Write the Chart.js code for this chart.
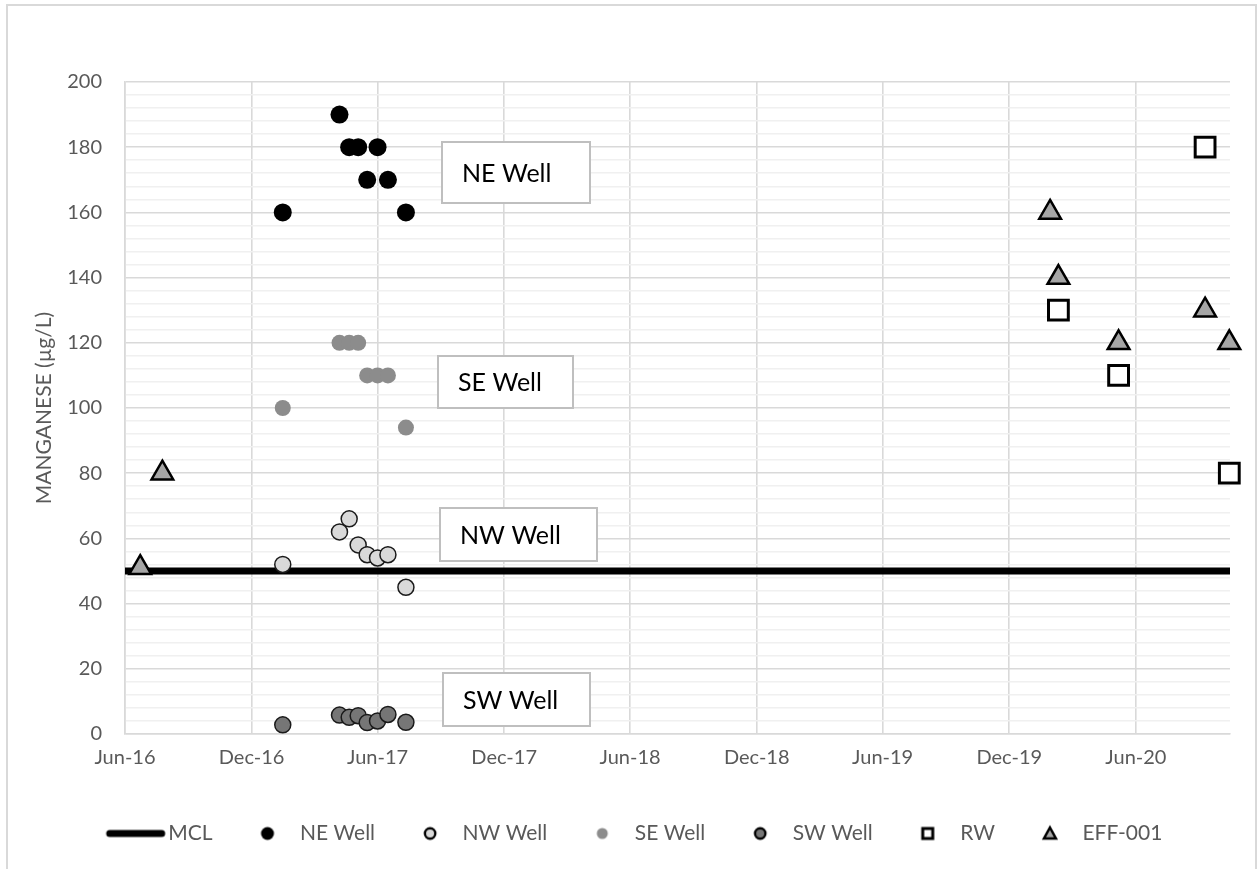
<!DOCTYPE html>
<html>
<head>
<meta charset="utf-8">
<script src="https://cdn.jsdelivr.net/npm/chart.js@4/dist/chart.umd.min.js"></script>
<style>
  html, body { margin: 0; padding: 0; background: #fff; }
  #wrap { width: 1258px; height: 869px; position: relative; }
</style>
</head>
<body>
<div id="wrap"><canvas id="mnChart"></canvas></div>
<script>
// sample data
const wellDates = ["2017-01-15", "2017-04-07", "2017-04-21", "2017-05-04", "2017-05-17", "2017-06-01", "2017-06-16", "2017-07-12"];
const neWell = [160, 190, 180, 180, 170, 180, 170, 160];
const nwWell = [52, 62, 66, 58, 55, 54, 55, 45];
const seWell = [100, 120, 120, 120, 110, 110, 110, 94];
const swWell = [2.8, 5.8, 5.1, 5.6, 3.5, 4, 6, 3.6];

const rwDates = ["2020-02-10", "2020-05-07", "2020-09-09", "2020-10-14"];
const rwValues = [130, 110, 180, 80];

const effDates = ["2016-06-23", "2016-07-25", "2020-01-29", "2020-02-10", "2020-05-07", "2020-09-09", "2020-10-14"];
const effValues = [51, 80, 160, 140, 120, 130, 120];

const mclValue = 50;

const xStart = "2016-06-01";
const xEnd = "2020-10-15";
const xTickDates = ["2016-06-01", "2016-12-01", "2017-06-01", "2017-12-01", "2018-06-01", "2018-12-01", "2019-06-01", "2019-12-01", "2020-06-01"];
const xTickLabels = ["Jun-16", "Dec-16", "Jun-17", "Dec-17", "Jun-18", "Dec-18", "Jun-19", "Dec-19", "Jun-20"];

const wellLabels = [
  { text: "NE Well", x: 442, y: 142, w: 148, h: 61 },
  { text: "SE Well", x: 438, y: 356, w: 135, h: 52 },
  { text: "NW Well", x: 440, y: 508, w: 157, h: 53 },
  { text: "SW Well", x: 443, y: 673, w: 147, h: 53 },
];

// dates -> day numbers so a linear scale can be used
const toDay = (s) => {
  const [y, m, d] = s.split("-").map(Number);
  return Date.UTC(y, m - 1, d) / 86400000;
};
const pts = (dates, vals) => dates.map((d, i) => ({ x: toDay(d), y: vals[i] }));

const FONT = "Lato, 'Open Sans', sans-serif";
const GREY_TXT = "#595959";

// small canvases used as legend markers
function marker(w, h, draw) {
  const c = document.createElement("canvas");
  c.width = w;
  c.height = h;
  draw(c.getContext("2d"), w / 2, h / 2);
  return c;
}
const dot = (r, fill, stroke, lw) => marker(20, 20, (g, cx, cy) => {
  g.beginPath();
  g.arc(cx, cy, r, 0, Math.PI * 2);
  g.fillStyle = fill;
  g.fill();
  if (stroke) { g.lineWidth = lw; g.strokeStyle = stroke; g.stroke(); }
});
const legendIcons = {
  mcl: marker(64, 12, (g, cx, cy) => {
    g.beginPath();
    g.moveTo(6, cy);
    g.lineTo(58, cy);
    g.lineWidth = 7;
    g.lineCap = "round";
    g.strokeStyle = "#000";
    g.stroke();
  }),
  ne: dot(6.5, "#000"),
  nw: dot(5.2, "#d9d9d9", "#000", 2.4),
  se: dot(5.5, "#8c8c8c"),
  sw: dot(5.2, "#767676", "#000", 2.4),
  rw: marker(20, 20, (g, cx, cy) => {
    g.fillStyle = "#fff";
    g.strokeStyle = "#000";
    g.lineWidth = 3;
    g.fillRect(cx - 5, cy - 5, 10, 10);
    g.strokeRect(cx - 5, cy - 5, 10, 10);
  }),
  eff: marker(20, 20, (g, cx, cy) => {
    g.beginPath();
    g.moveTo(cx, cy - 6);
    g.lineTo(cx + 6, cy + 5);
    g.lineTo(cx - 6, cy + 5);
    g.closePath();
    g.fillStyle = "#a6a6a6";
    g.fill();
    g.lineWidth = 2.5;
    g.strokeStyle = "#000";
    g.stroke();
  }),
};

const framePlugin = {
  id: "frame",
  beforeDraw(chart) {
    const ctx = chart.ctx;
    ctx.save();
    ctx.strokeStyle = "#d9d9d9";
    ctx.lineWidth = 2;
    ctx.strokeRect(7, 5, 1249, 900);
    ctx.restore();
  },
  // legend sits a little right of the plot's centre in the original
  afterLayout(chart) {
    chart.legend.left += 23;
    chart.legend.right += 23;
  },
};

const wellLabelPlugin = {
  id: "wellLabels",
  afterDatasetsDraw(chart) {
    const ctx = chart.ctx;
    ctx.save();
    wellLabels.forEach((b) => {
      ctx.fillStyle = "#fff";
      ctx.fillRect(b.x, b.y, b.w, b.h);
      ctx.strokeStyle = "#bfbfbf";
      ctx.lineWidth = 2;
      ctx.strokeRect(b.x, b.y, b.w, b.h);
      ctx.fillStyle = "#000";
      ctx.font = "25px " + FONT;
      ctx.textBaseline = "middle";
      ctx.textAlign = "left";
      ctx.fillText(b.text, b.x + 20, b.y + b.h / 2 + 1);
    });
    ctx.restore();
  },
};

const ctx = document.getElementById("mnChart").getContext("2d");
new Chart(ctx, {
  type: "scatter",
  data: {
    datasets: [
      {
        label: "MCL",
        data: [{ x: toDay(xStart), y: mclValue }, { x: toDay(xEnd), y: mclValue }],
        showLine: true,
        borderColor: "#000",
        borderWidth: 7,
        pointRadius: 0,
        order: 10,
        icon: legendIcons.mcl,
      },
      {
        label: "NE Well",
        data: pts(wellDates, neWell),
        pointRadius: 9,
        backgroundColor: "#000",
        borderColor: "#000",
        borderWidth: 0,
        icon: legendIcons.ne,
      },
      {
        label: "NW Well",
        data: pts(wellDates, nwWell),
        pointRadius: 8,
        backgroundColor: "#d9d9d9",
        borderColor: "#1a1a1a",
        borderWidth: 1.5,
        icon: legendIcons.nw,
      },
      {
        label: "SE Well",
        data: pts(wellDates, seWell),
        pointRadius: 8,
        backgroundColor: "#8c8c8c",
        borderColor: "#8c8c8c",
        borderWidth: 0,
        icon: legendIcons.se,
      },
      {
        label: "SW Well",
        data: pts(wellDates, swWell),
        pointRadius: 8,
        backgroundColor: "#767676",
        borderColor: "#1a1a1a",
        borderWidth: 1.5,
        icon: legendIcons.sw,
      },
      {
        label: "RW",
        data: pts(rwDates, rwValues),
        pointStyle: "rect",
        pointRadius: 14,
        backgroundColor: "#fff",
        borderColor: "#000",
        borderWidth: 3,
        icon: legendIcons.rw,
      },
      {
        label: "EFF-001",
        data: pts(effDates, effValues),
        pointStyle: "triangle",
        pointRadius: 12.5,
        backgroundColor: "#a6a6a6",
        borderColor: "#000",
        borderWidth: 2.5,
        icon: legendIcons.eff,
      },
    ],
  },
  options: {
    responsive: true,
    maintainAspectRatio: false,
    animation: false,
    events: [],
    clip: false,
    layout: { padding: { top: 82, right: 28, bottom: 15, left: 0 } },
    scales: {
      x: {
        type: "linear",
        min: toDay(xStart),
        max: toDay(xEnd),
        afterBuildTicks: (scale) => {
          scale.ticks = xTickDates.map((d) => ({ value: toDay(d) }));
        },
        afterFit: (scale) => { scale.height = 56; },
        ticks: {
          autoSkip: false,
          maxRotation: 0,
          padding: 12,
          color: GREY_TXT,
          font: { family: FONT, size: 20 },
          callback: (value, i) => xTickLabels[i],
        },
        grid: { color: "#d9d9d9", lineWidth: 1.6, drawTicks: false },
        border: { color: "#d9d9d9", width: 1.6 },
      },
      y: {
        min: 0,
        max: 200,
        afterFit: (scale) => { scale.width = 125; },
        ticks: {
          stepSize: 4,
          autoSkip: false,
          padding: 23,
          color: GREY_TXT,
          font: { family: FONT, size: 20 },
          callback: (v) => (v % 20 === 0 ? v : ""),
        },
        grid: {
          drawTicks: false,
          lineWidth: 1.6,
          color: (c) => (c.tick && c.tick.value % 20 === 0 ? "#d9d9d9" : "#f0f0f0"),
        },
        border: { color: "#d9d9d9", width: 1.6 },
        title: {
          display: true,
          text: "MANGANESE (µg/L)",
          color: GREY_TXT,
          font: { family: FONT, size: 21 },
          padding: { top: 32, bottom: 0 },
        },
      },
    },
    plugins: {
      tooltip: { enabled: false },
      legend: {
        position: "bottom",
        labels: {
          usePointStyle: true,
          pointStyleWidth: 44,
          padding: 33,
          color: GREY_TXT,
          font: { family: FONT, size: 21 },
          generateLabels: (chart) =>
            chart.data.datasets.map((ds, i) => ({
              text: ds.label,
              pointStyle: ds.icon,
              fillStyle: "#000",
              strokeStyle: "#000",
              lineWidth: 0,
              fontColor: GREY_TXT,
              hidden: false,
              datasetIndex: i,
            })),
        },
      },
    },
  },
  plugins: [framePlugin, wellLabelPlugin],
});
</script>
</body>
</html>
